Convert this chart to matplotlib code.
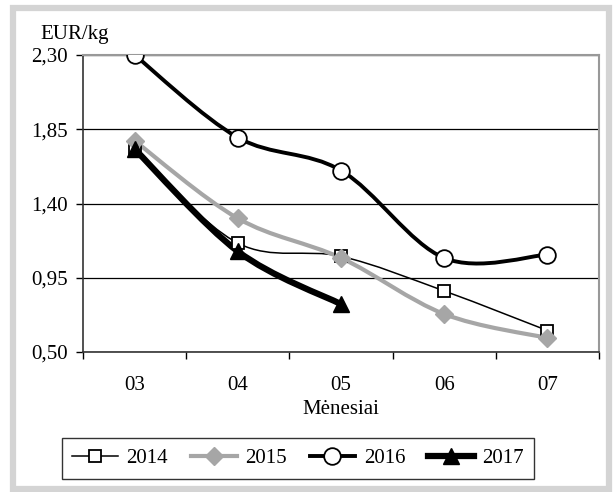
import numpy as np
import matplotlib
matplotlib.use("Agg")
from matplotlib import pyplot as plt
from matplotlib.path import Path
from matplotlib.patches import PathPatch, Rectangle
from matplotlib.lines import Line2D

plt.rcParams['font.family'] = ['Liberation Serif', 'DejaVu Serif']

months = ['03', '04', '05', '06', '07']
yticks = [0.50, 0.95, 1.40, 1.85, 2.30]
ytick_labels = ['0,50', '0,95', '1,40', '1,85', '2,30']

p2014 = [1.72, 1.16, 1.08, 0.87, 0.63]
p2015 = [1.78, 1.31, 1.07, 0.73, 0.585]
p2016 = [2.30, 1.80, 1.60, 1.07, 1.09]
p2017 = [1.73, 1.11, 0.79]


def smooth_path(ys):
    # excel-style smoothed line: bezier through the points
    pts = np.column_stack([np.arange(len(ys)), ys]).astype(float)
    verts = [pts[0]]
    codes = [Path.MOVETO]
    n = len(pts)
    for i in range(n - 1):
        p0 = pts[i - 1] if i > 0 else pts[i]
        p1 = pts[i]
        p2 = pts[i + 1]
        p3 = pts[i + 2] if i + 2 < n else pts[i + 1]
        c1 = p1 + (p2 - p0) / 6
        c2 = p2 - (p3 - p1) / 6
        verts += [c1, c2, p2]
        codes += [Path.CURVE4] * 3
    return Path(verts, codes)


series = [
    ('2014', p2014, dict(color='black', lw=1.1), dict(marker='s', ms=9, mfc='white', mec='black', mew=1.3)),
    ('2015', p2015, dict(color='#a6a6a6', lw=3.0), dict(marker='D', ms=9, mfc='#a6a6a6', mec='#a6a6a6', mew=1)),
    ('2016', p2016, dict(color='black', lw=2.8), dict(marker='o', ms=12, mfc='white', mec='black', mew=1.3)),
    ('2017', p2017, dict(color='black', lw=4.5), dict(marker='^', ms=12, mfc='black', mec='black', mew=1)),
]

fig = plt.figure(figsize=(6.14, 4.92), dpi=100)
ax = fig.add_axes([83 / 614, 1 - 352 / 492, 516 / 614, 297 / 492])

handles = []
for name, ys, lst, mst in series:
    ax.add_patch(PathPatch(smooth_path(ys), facecolor='none', edgecolor=lst['color'],
                           lw=lst['lw'], capstyle='round', joinstyle='round', zorder=3))
    ax.plot(range(len(ys)), ys, linestyle='none', zorder=4, **mst)
    handles.append(Line2D([], [], color=lst['color'], lw=lst['lw'], label=name, **mst))

fs = 15

ax.set_xlim(-0.5, 4.5)
ax.set_ylim(0.50, 2.30)
ax.set_yticks(yticks)
ax.set_yticklabels(ytick_labels, fontsize=fs)
ax.yaxis.grid(True, color='black', lw=0.9)
ax.set_axisbelow(True)

ax.set_xticks(np.arange(-0.5, 5, 1))
ax.set_xticklabels([])
ax.set_xticks(range(len(months)), minor=True)
ax.set_xticklabels(months, minor=True, fontsize=fs)
ax.tick_params(axis='x', which='minor', length=0, pad=17)
ax.tick_params(axis='x', which='major', length=5, width=1, direction='out')
ax.tick_params(axis='y', length=5, width=1, direction='out', pad=6)

for s in ['left', 'bottom']:
    ax.spines[s].set_color('#333333')
    ax.spines[s].set_linewidth(1.2)
for s in ['top', 'right']:
    ax.spines[s].set_color('#999999')
    ax.spines[s].set_linewidth(1.5)

ax.set_xlabel('Mėnesiai', fontsize=fs, labelpad=4)
fig.text(40 / 614, 1 - 34 / 492, 'EUR/kg', fontsize=fs, ha='left', va='center')

leg = fig.legend(handles=handles, loc='center', bbox_to_anchor=(298 / 614, 1 - 458.5 / 492),
                 ncol=4, fontsize=fs, frameon=True, fancybox=False, handlelength=2.2,
                 columnspacing=1.1, handletextpad=0.4, borderpad=0.5)
leg.get_frame().set_edgecolor('black')
leg.get_frame().set_linewidth(1.0)

fig.patches.append(Rectangle((13 / 614, 1 - 489 / 492), 596 / 614, 481 / 492,
                             transform=fig.transFigure, fill=False, edgecolor='#d4d4d4', lw=4.5))

fig.savefig('out.png', dpi=100)
